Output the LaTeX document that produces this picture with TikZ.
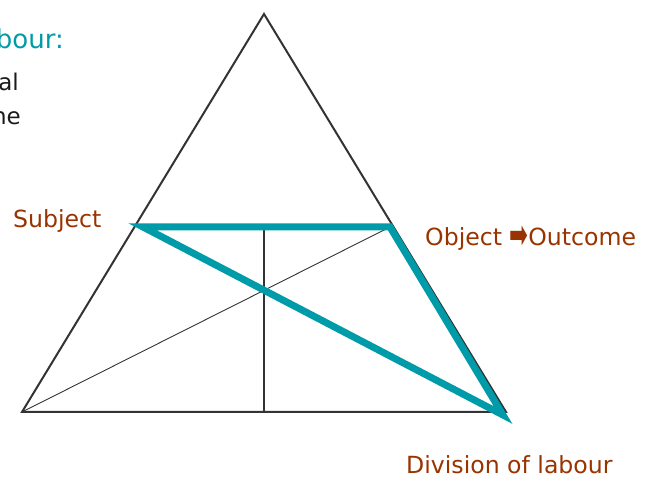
\documentclass[tikz,border=0pt]{standalone}
\usepackage{fontspec}
\setmainfont{DejaVu Sans}
\definecolor{tealc}{RGB}{0,155,168}
\definecolor{brownc}{RGB}{153,51,0}
\definecolor{linec}{RGB}{51,51,51}
\definecolor{textc}{RGB}{26,26,26}
\begin{document}
\begin{tikzpicture}[x=1pt,y=-1pt,
  outer/.style={draw=linec,line width=2pt,line join=miter},
  inner/.style={draw=linec,line width=1.1pt},
  hilite/.style={draw=tealc,line width=7pt,line join=miter},
  lbl/.style={inner sep=0pt,text=brownc,font=\fontsize{23.6}{28}\selectfont},
  cut/.style={inner sep=0pt,text=textc,font=\fontsize{23}{27}\selectfont}]
\useasboundingbox (0,0) rectangle (649,478);
\clip (0,0) rectangle (649,478);
% outer triangle
\coordinate (top) at (264,14);
\coordinate (bl) at (22,412);
\coordinate (br) at (506,412);
\coordinate (mb) at (264,412);
\coordinate (mt) at (264,227);
\coordinate (rm) at (390,227);
% highlighted triangle
\coordinate (ta) at (143,227);
\coordinate (tb) at (390,227);
\coordinate (tc) at (503,415);
\draw[outer] (top) -- (bl) -- (br) -- cycle;
\draw[inner] (mt) -- (mb);
\draw[inner,line width=0.9pt] (bl) -- (rm);
\draw[hilite] (ta) -- (tb) -- (tc) -- cycle;
% labels
\node[lbl,anchor=base west] (subj) at (13,228) {Subject};
\node[lbl,anchor=base west] (obj) at (425,246) {Object \raisebox{-0.12em}{\scalebox{0.95}[1.7]{➡}}Outcome};
\node[lbl,anchor=base west] (div) at (406,474) {Division of labour};
% cut-off text on the left
\node[inner sep=0pt,anchor=base east,text=tealc,font=\fontsize{26}{30}\selectfont] (hd) at (64,49) {bour:};
\node[cut,anchor=base east] (l1) at (19,91) {al};
\node[cut,anchor=base east] (l2) at (21,125) {ne};
\end{tikzpicture}
\end{document}
